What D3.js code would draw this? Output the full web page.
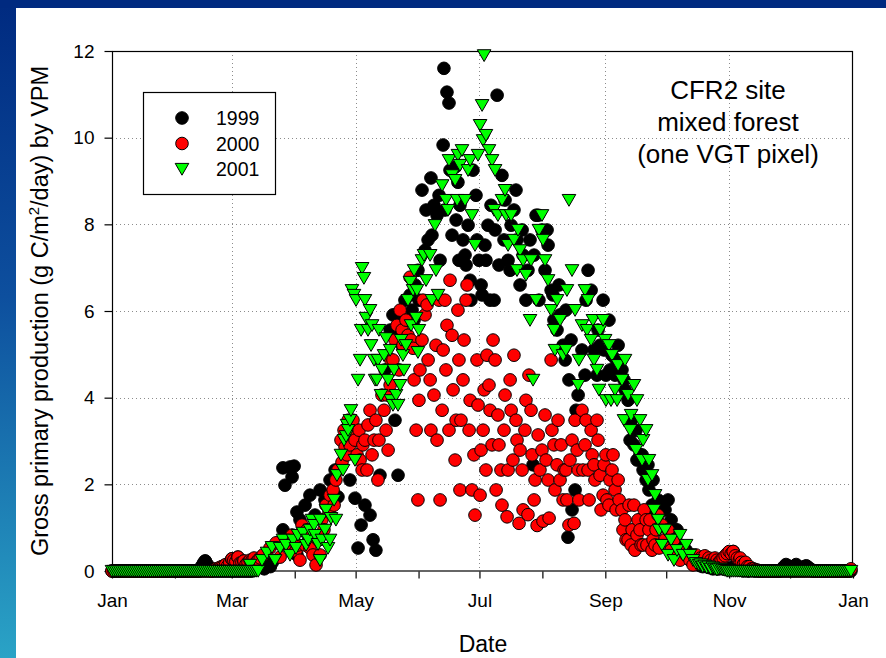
<!DOCTYPE html>
<html>
<head>
<meta charset="utf-8">
<script src="https://cdn.jsdelivr.net/npm/d3@7"></script>
<style>
  html, body { margin: 0; padding: 0; background: #fff; }
  svg { display: block; font-family: "Liberation Sans", Arial, Helvetica, sans-serif; }
</style>
</head>
<body>
<svg id="chart" width="886" height="658"></svg>
<script>
// ---- Daily GPP estimated by VPM, CFR2 site (g C/m2/day) ----
// Winter runs: one value per day, starting on Jan 1
const early1999 = [0,0,0,0,0,0,0,0,0,0, 0,0,0,0,0,0,0,0,0,0, 0,0,0,0,0,0,0,0,0,0, 0,0,0,0,0,0,0,0,0,0, 0,0,0,0,
  0.1,0.18,0.23,0.15,0.05, 0,0,0,0,0,0,0,0,0,0, 0,0,0,0,0,0,0,0,0,0, 0,
  0.05,0.1,0.2,0.15,0.1,0.05,0.1,0.15,0.1,0.2];
const early2000 = [0,0,0,0,0,0,0,0,0,0, 0,0,0,0,0,0,0,0,0,0, 0,0,0,0,0,0,0,0,0,0, 0,0,0,0,0,0,0,0,0,0, 0,0,0,0,0,0,0,0,0,0,
  0.02,0.05,0.05,0.08,0.1,0.12,0.15,0.12,0.2,0.28,0.25,0.22,0.32,0.18,0.2,0.23,0.15,0.2,0.25,0.22,0.3,0.2,0.25,0.3];
const early2001 = [0,0,0,0,0,0,0,0,0,0, 0,0,0,0,0,0,0,0,0,0, 0,0,0,0,0,0,0,0,0,0, 0,0,0,0,0,0,0,0,0,0,
  0,0,0,0,0,0,0,0,0,0, 0,0,0,0,0,0,0,0,0,0, 0,0,0,0,0,0,0,0,0,0, 0,0,0];

// Late-autumn runs: one value per day, starting on day 290
const tailStart = 290;
const tail1999 = [0.12,0.1,0.15,0.1,0.08,0.1,0.05,0.08,0.05,0.05, 0.1,0.05,0.08,0.05,0.03,0.05,0.1,0.05,0.03,0.02,
  0.02,0,0.02,0,0,0.02,0,0,0,0, 0,0,0,0,0,0,0,0,0,0, 0.05,0.1,0.15,0.12,0.08,0.05,0.1,0.15,0.1,0.05,
  0.05,0.1,0.12,0.08,0.05,0,0,0,0,0, 0,0,0,0,0,0,0,0,0,0,0,0,0,0,0];
const tail2000 = [0.3,0.25,0.35,0.2,0.3,0.25,0.2,0.3,0.25,0.2, 0.25,0.3,0.35,0.4,0.45,0.4,0.45,0.35,0.3,0.25,
  0.2,0.15,0.2,0.1,0.1,0.05,0.05,0.03,0.02,0, 0,0,0,0,0,0,0,0,0,0, 0,0,0,0,0,0,0,0,0,0,
  0,0,0,0,0,0,0,0,0,0, 0,0,0,0,0,0,0,0,0,0, 0,0,0,0,0.05];
const tail2001 = [0.15,0.1,0.12,0.08,0.1,0.05,0.08,0.05,0.03,0.05, 0.05,0.03,0.02,0,0,0,0,0,0,0,
  0,0,0,0,0,0,0,0,0,0, 0,0,0,0,0,0,0,0,0,0, 0,0,0,0,0,0,0,0,0,0,
  0,0,0,0,0,0,0,0,0,0, 0,0,0,0,0,0,0,0,0,0, 0,0,0,0,0];

// Growing season: [day of year, GPP]
const season1999 = [
  [45.8,0.23],[72.4,0.2],[84.2,0.95],[85.2,1.98],[84.2,2.38],[87.7,2.4],[89.7,2.42],[88.7,2.17],[91.1,1.36],[92.6,1.18],
  [91.1,0.37],[95.1,1.52],[97.5,1.75],[100,1.29],[102.5,1.87],[104.9,1.64],[107.4,2.1],[109.9,2.33],[111.3,1.71],[112.3,2.38],
  [114.8,2.68],[117.2,2.1],[119.7,1.68],[121.2,0.53],[122.7,1.06],[124.6,1.52],[127.1,1.29],[128.6,0.72],[130,0.48],[132,2.21],
  [134.5,4.64],[137,5.56],[138.4,5.91],[139.4,3.48],[140.9,2.21],[142.9,5.21],[144.3,6.25],[145.8,5.79],[147.8,6.02],[149.3,6.6],
  [150.7,6.94],[152.7,8.79],[154.2,7.4],[155.7,7.64],[157.1,9.07],[158.6,8.44],[160.1,8.21],[161.6,7.17],[163.1,9.83],[163.5,11.6],
  [165,11.05],[166,10.8],[167.5,7.75],[169,9.32],[170.4,8.97],[171.4,8.44],[172.9,7.64],[174.4,7.06],[176.4,6.71],[177.8,9.25],
  [179.3,8.67],[180.8,7.17],[182.3,6.37],[183.7,7.52],[185.2,7.98],[186.7,8.44],[188.2,6.25],[189.7,10.98],[190.6,7.06],[192.1,9.13],
  [193.6,8.56],[195.1,7.17],[196.6,7.98],[198,8.33],[199.5,7.64],[201,6.6],[202.5,7.29],[203.9,6.25],[205.9,7.64],[207.4,2.45],
  [208.9,8.21],[210.3,6.25],[211.8,7.87],[213.3,6.94],[214.8,7.52],[216.3,6.48],[217.7,5.79],[219.2,5.56],[220.7,5.91],[222.2,5.21],
  [223.6,6.02],[225.1,4.41],[226.6,1.41],[224.6,0.78],[228.1,1.87],[229.6,4.06],[231.5,5.1],[233,4.52],[234.5,6.94],[236,6.48],
  [237.4,5.1],[238.9,4.52],[240.4,5.21],[241.9,6.25],[243.3,4.52],[244.8,5.79],[246.3,4.98],[247.8,4.52],[249.3,5.21],[251.2,4.64],
  [252.7,4.18],[254.2,3.94],[255.7,3.48],[257.1,2.91],[258.6,2.56],[260.1,2.68],[261.6,2.33],[263.1,2.1],[264.5,1.87],[266,1.52],
  [267.5,1.29],[269,1.64],[270.9,1.52],[272.4,1.41],[273.9,1.64],[275.4,1.18],[276.8,0.72],[278.3,0.95],[279.8,0.6],[281.3,0.37],
  [282.8,0.48],[284.7,0.25],[286.2,0.37],[287.7,0.21],[289.2,0.14],
  [140.9,5.56],[143.8,5.79],[146.8,6.37],[148.8,5.79],[151.2,6.25],[154.7,8.33],[157.6,7.75],[161.1,8.67],[164,8.33],[166.5,9.25],
  [169.5,8.1],[170.9,7.17],[173.9,7.29],[175.4,7.98],[176.8,6.25],[179.8,7.64],[181.8,6.6],[184.2,7.17],[186.2,6.25],[188.7,7.87],
  [193.1,7.64],[196.1,6.94],[199,8.79],[202,7.87],[204.9,6.94],[207.9,7.29],[209.9,8.21],[214.3,7.87],[217.2,6.37],[220.2,6.6],
  [223.2,4.87],[226.1,5.33],[228.6,3.71],[233.5,6.25],[239.4,5.56],[242.4,5.1],[245.3,4.64],[248.3,4.87],[252.2,4.41],[255.2,3.02],
  [258.1,3.25],[261.1,2.68],[264,2.45],[266.5,2.1]
];
const season2000 = [
  [59.1,0.28],[62.1,0.32],[65,0.23],[69,0.25],[74.4,0.37],[77.8,0.53],[80.8,0.65],[82.8,0.32],[85.2,0.6],[86.7,0.72],
  [88.7,0.83],[90.6,0.46],[91.6,0.6],[92.6,0.25],[93.6,1.06],[95.1,0.6],[97.5,0.53],[99,0.37],[100.5,0.14],[102.5,0.37],
  [103.4,1.18],[105.4,1.52],[107.4,1.75],[108.9,1.87],[110.3,2.1],[111.3,2.33],[113.3,2.51],[114.8,2.86],[116.3,3.48],[118.2,3.14],
  [119.7,3.02],[122.2,2.56],[123.6,2.91],[125.6,2.33],[127.1,3.71],[129.1,3.02],[131,2.1],[133,4.06],[135,3.25],[136,2.79],
  [137,4.29],[138.4,4.87],[140.4,5.67],[141.9,6.02],[143.3,5.21],[145.8,5.44],[146.8,6.78],[148.3,5.14],[149.8,3.25],[150.7,1.64],
  [151.7,4.64],[153.2,6.25],[154.2,5.91],[155.7,4.87],[157.1,3.25],[158.6,4.06],[160.1,3.02],[161.6,1.64],[163.1,5.1],[164,6.25],
  [165,5.67],[166.5,6.71],[168,4.18],[169,2.56],[170.4,6.02],[171.4,1.87],[172.9,4.41],[174.4,6.25],[175.9,3.25],[177.3,1.87],
  [178.8,1.29],[180.3,3.83],[181.8,2.79],[183.3,4.18],[184.7,4.98],[186.2,3.71],[187.7,5.33],[189.2,1.87],[190.6,2.91],[192.1,1.52],
  [193.6,4.06],[195.1,2.33],[196.6,3.71],[198,4.98],[199.5,3.02],[201,2.79],[202.5,1.41],[203.9,3.94],[205.4,4.52],[206.9,2.68],
  [208.4,2.1],[209.9,3.14],[211.8,2.79],[213.3,3.6],[214.8,2.1],[216.3,4.87],[217.7,2.91],[219.2,2.45],[220.7,2.1],[222.2,1.64],
  [223.6,2.33],[225.1,1.06],[226.6,3.02],[228.1,3.48],[229.6,2.33],[231.5,3.71],[233,2.91],[234.5,2.33],[236,3.25],[237.4,2.45],
  [238.9,3.48],[240.4,2.21],[241.9,1.75],[243.3,2.68],[244.8,1.52],[246.3,2.33],[247.8,1.87],[249.3,2.1],[251.2,1.41],[252.7,1.18],
  [254.2,0.72],[255.7,0.6],[257.1,1.52],[258.6,0.83],[260.1,0.95],[261.6,0.6],[263.1,1.18],[264.5,0.95],[266,0.48],[267.5,0.6],
  [269,1.29],[270.9,1.06],[272.4,0.72],[273.9,0.95],[275.4,0.48],[276.8,0.72],[278.3,0.37],[279.8,0.25],[281.3,0.48],[282.8,0.37],
  [284.7,0.25],[286.2,0.14],[287.7,0.37],[289.2,0.25],[306,0.45],[309.4,0.3],
  [96.1,0.95],[101.5,0.72],[104.4,0.95],[106.9,1.36],[109.4,1.52],[112.8,3.02],[114.3,3.25],[115.8,2.68],[117.2,2.91],[118.7,3.48],
  [120.7,2.68],[121.7,3.25],[123.2,2.33],[124.6,3.02],[126.1,3.37],[128.1,2.68],[130,3.48],[131.5,3.02],[134,3.71],[135.5,4.06],
  [137.4,4.87],[139.4,5.33],[141.4,4.64],[142.9,5.56],[144.8,5.79],[147.3,5.33],[148.8,4.41],[151.2,3.94],[152.7,5.33],[155.2,6.14],
  [156.7,4.41],[159.6,5.21],[161.1,6.25],[162.6,3.71],[164.5,4.64],[166,3.25],[167.5,5.44],[169.5,3.48],[170.9,4.87],[171.9,3.48],
  [173.4,5.33],[174.9,6.6],[176.4,3.94],[178.3,2.68],[179.8,4.87],[181.3,1.75],[182.8,3.25],[184.2,2.33],[185.7,4.29],[187.2,2.91],
  [188.7,4.87],[190.1,3.6],[191.6,2.33],[193.1,3.25],[194.6,1.25],[196.1,4.41],[197.5,2.56],[199,3.48],[200.5,1.1],[202,2.33],
  [203.4,3.25],[204.9,1.3],[206.4,3.71],[207.9,1.64],[209.4,1.05],[210.8,2.33],[212.3,1.15],[213.8,2.56],[215.3,1.22],[216.7,3.25],
  [218.2,1.87],[219.7,3.48],[221.2,2.91],[222.7,2.33],[224.1,1.64],[225.6,2.56],[227.6,1.1],[229.1,2.79],[230,1.64],[232,2.33],
  [233.5,3.48],[235,1.64],[236.5,2.68],[237.9,2.1],[239.4,3.02],[240.9,1.41],[242.4,2.45],[243.8,1.64],[245.3,2.1],[246.8,2.68],
  [248.3,1.41],[249.8,1.64],[251.7,0.95],[253.2,0.72],[254.7,1.52],[256.2,0.95],[257.6,0.48],[259.1,1.18],[260.6,0.6],[262.1,1.41],
  [263.5,0.6],[265,1.18],[266.5,0.72],[268,0.95],[269.5,0.53]
];
const season2001 = [
  [68,0.14],[73.9,0.25],[76.4,0.42],[78.8,0.55],[80.3,0.25],[82.8,0.53],[84.2,0.72],[87.7,0.37],[89.2,0.72],[90.6,0.53],
  [94.1,0.88],[95.6,0.6],[97.5,0.95],[98.5,1.18],[100,0.83],[101.5,0.62],[102.5,0.25],[103.4,0.72],[104.9,0.95],[106.4,0.53],
  [107.9,1.22],[109.4,1.64],[110.8,2.21],[113.8,2.33],[115.3,3.11],[116.3,3.25],[117.2,3.48],[118.2,6.48],[119.2,6.37],[120.2,6.25],
  [122.2,4.87],[123.2,6.99],[124.1,6.76],[125.1,5.84],[127.1,6.02],[128.1,5.67],[129.6,4.41],[131,4.87],[133,4.64],[135,5.37],
  [137,5.1],[138.4,3.83],[139.9,4.06],[141.9,4.29],[143.3,4.98],[144.8,5.21],[146.8,6.67],[148.3,6.48],[149.8,5.84],[150.7,5.05],
  [152.7,7.17],[154.7,6.71],[156.7,7.29],[157.6,6.25],[159.1,7.98],[160.6,6.37],[162.6,8.9],[164.5,8.56],[166,9.48],[167.5,9.13],
  [169,9.02],[170.4,9.6],[171.4,9.37],[172.4,9.71],[173.9,8.56],[175.4,9.25],[177.3,8.21],[178.8,7.52],[180.3,9.6],[181.3,10.29],
  [182.3,10.75],[183.3,11.9],[184.2,10.06],[185.7,9.71],[187.2,9.48],[188.7,9.25],[190.1,8.21],[192.1,8.56],[193.6,8.79],[195.1,7.52],
  [196.6,8.21],[198,7.64],[199.5,6.94],[201,7.4],[202.5,7.17],[203.9,6.83],[205.9,5.79],[207.4,4.41],[208.9,6.25],[210.3,7.87],
  [211.8,8.21],[213.3,7.17],[214.8,6.71],[216.3,6.02],[217.7,5.56],[219.2,6.25],[220.7,5.79],[222.2,4.98],[223.6,5.1],[225.1,8.56],
  [226.6,6.94],[228.1,6.02],[229.6,4.29],[231.5,5.67],[233,6.48],[234.5,6.25],[236,5.33],[237.4,4.87],[238.9,4.64],[240.4,5.56],
  [241.9,5.79],[243.3,3.94],[244.8,5.21],[246.3,4.98],[247.8,4.18],[249.3,4.75],[251.2,4.41],[252.7,4.87],[254.2,4.06],[255.7,3.6],
  [257.1,4.29],[258.6,3.94],[260.1,3.48],[261.6,3.02],[263.1,3.25],[264.5,2.56],[266,2.21],[267.5,1.75],[269,1.18],[270.9,0.6],
  [272.4,0.95],[273.9,0.37],[275.4,0.72],[276.8,0.25],[278.3,0.48],[279.8,0.83],[281.3,0.37],[282.8,0.6],[284.7,0.37],[286.2,0.25],
  [287.7,0.18],[289.2,0.14],
  [85.7,0.6],[91.6,0.83],[96.6,0.72],[99.5,1.06],[102.5,1.18],[105.4,1.41],[107.4,0.72],[110.3,1.18],[112.8,2.68],[114.3,3.02],
  [115.8,3.37],[117.7,3.71],[119.7,2.56],[121.2,4.41],[122.7,5.56],[124.6,6.25],[126.1,5.56],[127.6,5.21],[129.1,4.87],[130.5,4.41],
  [131.5,5.56],[132.5,4.06],[134,4.98],[136,4.41],[137.4,3.94],[138.9,4.64],[140.9,3.83],[142.4,5.33],[143.8,4.64],[145.8,6.25],
  [147.3,5.67],[148.8,6.94],[150.2,6.48],[151.2,5.56],
  [153.7,7.29],[159.6,6.94],[165.5,8.33],[170,8.56],[176.4,9.48],[182.8,9.94],[188.2,8.33],[194.1,8.21],[200,7.87],[206.4,7.17],
  [212.3,7.64],[218.2,5.1],[224.1,6.48],[230,4.87],
  [234,5.56],[236.9,5.79],[239.9,4.18],[242.9,5.33],[245.8,3.94],[248.8,3.94],[252.2,3.48],[255.2,3.25],[258.1,2.79],[261.1,2.56],
  [264,2.1],[267,1.41],[269.5,0.95]
];

const seriesNames = ["1999", "2000", "2001"];
const monthLabels = ["Jan","","Mar","","May","","Jul","","Sep","","Nov","","Jan"];
const yTicks = [0, 2, 4, 6, 8, 10, 12];
const yGrid = [2, 4, 6, 8, 10];
const xGridMonths = [2, 4, 6, 8, 10];
const noteLines = ["CFR2 site", "mixed forest", "(one VGT pixel)"];

// ---- assemble each year's points ----
function buildYear(early, season, tail) {
  const pts = [];
  early.forEach((v, i) => pts.push([i, v]));
  season.forEach(d => pts.push(d));
  tail.forEach((v, i) => pts.push([tailStart + i, v]));
  return pts.sort((a, b) => a[0] - b[0]);
}
const years = [
  { name: seriesNames[0], pts: buildYear(early1999, season1999, tail1999), shape: "circle", fill: "#000000" },
  { name: seriesNames[1], pts: buildYear(early2000, season2000, tail2000), shape: "circle", fill: "#ff0000" },
  { name: seriesNames[2], pts: buildYear(early2001, season2001, tail2001), shape: "tri",    fill: "#00ff00" }
];

// ---- page frame ----
const svg = d3.select("#chart");
const W = 886, H = 658;
const defs = svg.append("defs");
const grad = defs.append("linearGradient").attr("id", "sideGrad")
  .attr("x1", 0).attr("y1", 0).attr("x2", 0).attr("y2", 1);
grad.append("stop").attr("offset", "0%").attr("stop-color", "#002a80");
grad.append("stop").attr("offset", "45%").attr("stop-color", "#0d4f9e");
grad.append("stop").attr("offset", "100%").attr("stop-color", "#2aa3c6");
svg.append("rect").attr("width", W).attr("height", H).attr("fill", "#ffffff");
svg.append("rect").attr("x", 0).attr("y", 0).attr("width", 16).attr("height", H).attr("fill", "url(#sideGrad)");
svg.append("rect").attr("x", 0).attr("y", 0).attr("width", W).attr("height", 8).attr("fill", "#002a80");

// ---- scales ----
const t0 = Date.UTC(1999, 0, 1), DAY = 864e5;
const x = d3.scaleUtc().domain([new Date(t0), new Date(Date.UTC(2000, 0, 1))]).range([112, 853]);
const xd = d => x(new Date(t0 + d * DAY));
const y = d3.scaleLinear().domain([0, 12]).range([571, 51]);
const months = d3.utcMonth.range(new Date(t0), new Date(Date.UTC(2000, 0, 2)));

// ---- dotted grid ----
const grid = svg.append("g").attr("stroke", "#8c8c8c").attr("stroke-width", 1).attr("stroke-dasharray", "1,3");
grid.selectAll("line.h").data(yGrid).join("line")
  .attr("x1", 112).attr("x2", 853).attr("y1", d => Math.round(y(d)) + 0.5).attr("y2", d => Math.round(y(d)) + 0.5);
grid.selectAll("line.v").data(xGridMonths).join("line")
  .attr("x1", d => Math.round(x(months[d])) + 0.5).attr("x2", d => Math.round(x(months[d])) + 0.5)
  .attr("y1", 51).attr("y2", 571);

// ---- plot frame ----
svg.append("rect").attr("x", 112.5).attr("y", 51.5).attr("width", 740).attr("height", 519.5)
  .attr("fill", "none").attr("stroke", "#000").attr("stroke-width", 1.2);

// ---- axes ----
const yAxis = d3.axisLeft(y).tickValues(yTicks).tickSize(8).tickSizeOuter(0).tickPadding(10);
const gy = svg.append("g").attr("transform", "translate(112.5,0)").call(yAxis);
gy.select(".domain").remove();
gy.selectAll("line").attr("stroke-width", 1.2);
gy.selectAll("text").attr("font-size", 19).attr("fill", "#000")
  .attr("font-family", "'Liberation Sans', Arial, sans-serif");

const xAxis = d3.axisBottom(x).tickValues(months).tickSize(7).tickSizeOuter(0).tickPadding(15)
  .tickFormat((d, i) => monthLabels[i]);
const gx = svg.append("g").attr("transform", "translate(0,571.5)").call(xAxis);
gx.select(".domain").remove();
gx.selectAll("line").attr("stroke-width", 1.2);
gx.selectAll("text").attr("font-size", 19).attr("fill", "#000")
  .attr("font-family", "'Liberation Sans', Arial, sans-serif");

// ---- axis titles ----
svg.append("text").attr("x", 483).attr("y", 652).attr("text-anchor", "middle")
  .attr("font-size", 23).text("Date");
const yt = svg.append("text").attr("transform", "translate(48,311) rotate(-90)")
  .attr("text-anchor", "middle").attr("font-size", 23.5);
yt.append("tspan").text("Gross primary production (g C/m");
yt.append("tspan").attr("dy", -9).attr("font-size", 15).text("2");
yt.append("tspan").attr("dy", 9).text("/day) by VPM");

// ---- markers ----
const triPath = "M-6.8,-5.6L6.8,-5.6L0,6.2Z";
const R = 6.3;
function drawMarker(sel, shape, fill) {
  if (shape === "circle") {
    sel.append("circle").attr("r", R).attr("fill", fill).attr("stroke", "#000").attr("stroke-width", 1);
  } else {
    sel.append("path").attr("d", triPath).attr("fill", fill).attr("stroke", "#000").attr("stroke-width", 1);
  }
}
years.forEach(s => {
  const g = svg.append("g");
  const marks = g.selectAll("g").data(s.pts).join("g")
    .attr("transform", d => `translate(${xd(d[0])},${y(d[1])})`);
  if (s.shape === "circle") {
    marks.append("circle").attr("r", R).attr("fill", s.fill).attr("stroke", "#000").attr("stroke-width", 1);
  } else {
    marks.append("path").attr("d", triPath).attr("fill", s.fill).attr("stroke", "#000").attr("stroke-width", 1);
  }
});

// ---- legend ----
const lg = svg.append("g");
lg.append("rect").attr("x", 143.5).attr("y", 92.5).attr("width", 132).attr("height", 102)
  .attr("fill", "#fff").attr("stroke", "#000").attr("stroke-width", 1.2);
years.forEach((s, i) => {
  const cy = 118 + i * 25.5;
  const item = lg.append("g").attr("transform", `translate(182,${cy})`);
  drawMarker(item, s.shape, s.fill);
  lg.append("text").attr("x", 216).attr("y", cy + 7).attr("font-size", 19.5).text(s.name);
});

// ---- site note ----
svg.append("g").selectAll("text").data(noteLines).join("text")
  .attr("x", 728).attr("y", (d, i) => 99 + i * 32).attr("text-anchor", "middle")
  .attr("font-size", 26).text(d => d);
</script>
</body>
</html>
